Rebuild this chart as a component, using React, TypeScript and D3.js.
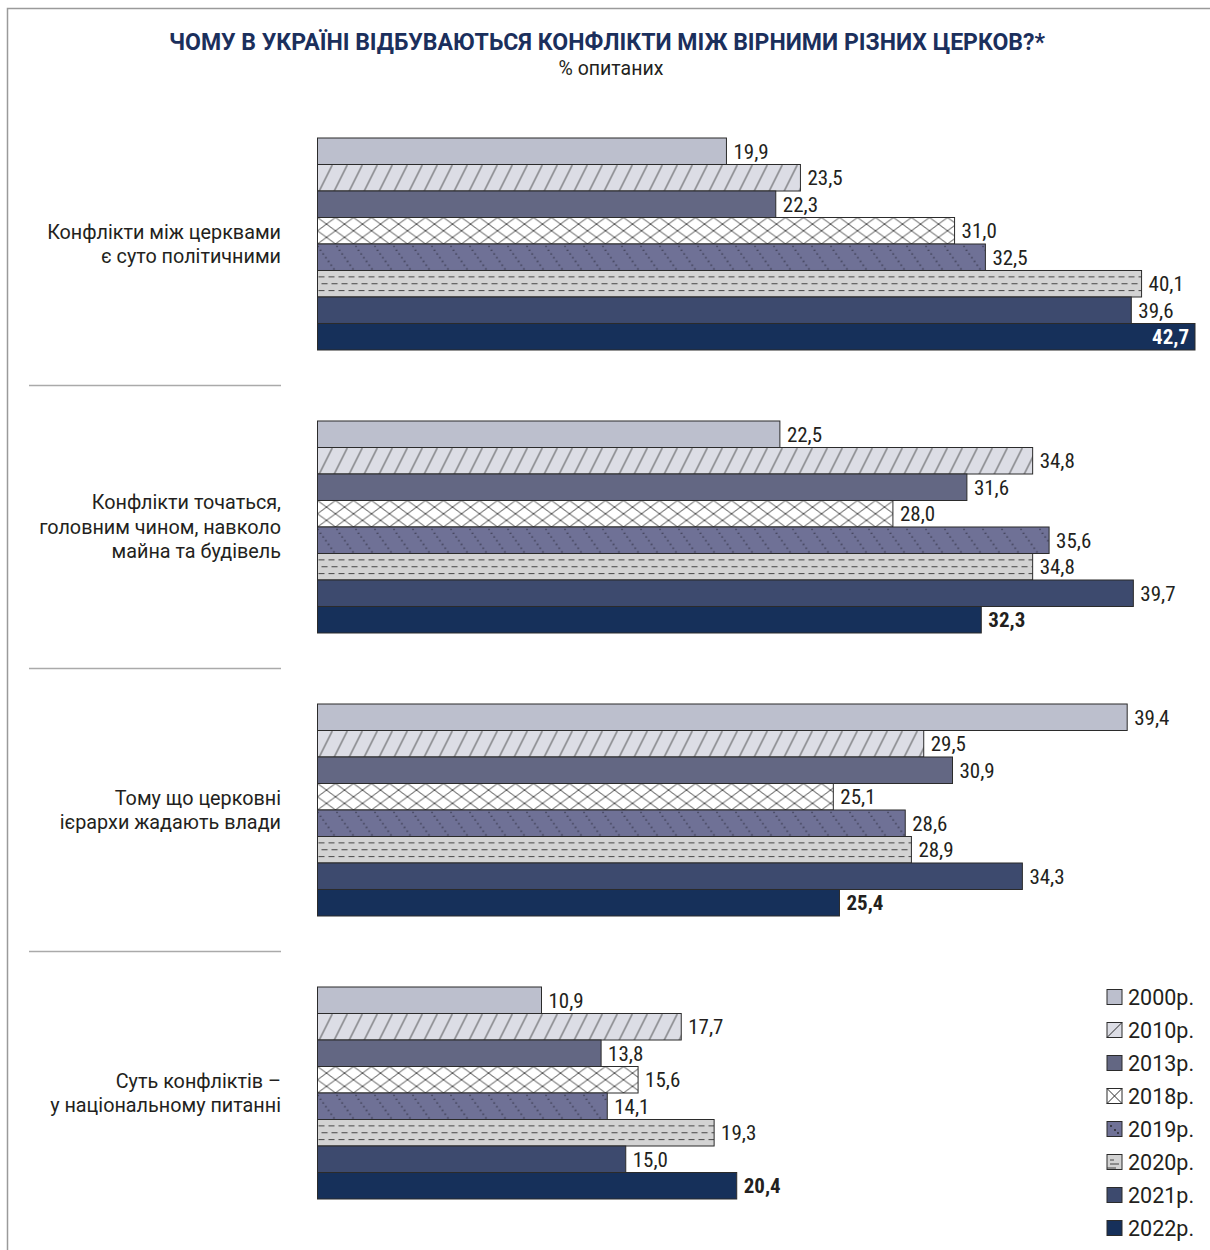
import React from "react";
import * as d3 from "d3";

const categories: string[][] = [
  ["Конфлікти між церквами", "є суто політичними"],
  ["Конфлікти точаться,", "головним чином, навколо", "майна та будівель"],
  ["Тому що церковні", "ієрархи жадають влади"],
  ["Суть конфліктів –", "у національному питанні"],
];
const years = ["2000р.", "2010р.", "2013р.", "2018р.", "2019р.", "2020р.", "2021р.", "2022р."];
const v2000 = [19.9, 22.5, 39.4, 10.9];
const v2010 = [23.5, 34.8, 29.5, 17.7];
const v2013 = [22.3, 31.6, 30.9, 13.8];
const v2018 = [31.0, 28.0, 25.1, 15.6];
const v2019 = [32.5, 35.6, 28.6, 14.1];
const v2020 = [40.1, 34.8, 28.9, 19.3];
const v2021 = [39.6, 39.7, 34.3, 15.0];
const v2022 = [42.7, 32.3, 25.4, 20.4];
const series = [v2000, v2010, v2013, v2018, v2019, v2020, v2021, v2022];

const fills = ["#bcbfcd", "#dcdde5", "#636783", "#ffffff", "#6f7196", "#d3d3d3", "#3d4a6e", "#16305a"];
const NAVY = "#1b2f5c";
const TEXT = "#231f20";
const FONT = "Roboto, 'Noto Sans', sans-serif";

function patternFor(idx: number, id: string, x: number, y: number, h: number) {
  if (idx === 1) {
    return (
      <pattern key={id} id={id} patternUnits="userSpaceOnUse" x={x} y={y} width={15} height={30}>
        <rect width={15} height={30} fill={fills[1]} />
        <line x1={0} y1={30} x2={15} y2={0} stroke="#333" strokeWidth={0.9} />
      </pattern>
    );
  }
  if (idx === 3) {
    return (
      <pattern key={id} id={id} patternUnits="userSpaceOnUse" x={x} y={y} width={18} height={h / 2}>
        <rect width={18} height={h / 2} fill="#fff" />
        <line x1={0} y1={0} x2={18} y2={h / 2} stroke="#333" strokeWidth={0.9} />
        <line x1={0} y1={h / 2} x2={18} y2={0} stroke="#333" strokeWidth={0.9} />
      </pattern>
    );
  }
  if (idx === 4) {
    return (
      <pattern key={id} id={id} patternUnits="userSpaceOnUse" x={x} y={y} width={19} height={h}>
        <rect width={19} height={h} fill={fills[4]} />
        <line x1={0} y1={2} x2={19} y2={h + 2} stroke="#2a2a3a" strokeWidth={1.4} strokeDasharray="1.2,3.4" />
        <line x1={-19} y1={2} x2={0} y2={h + 2} stroke="#2a2a3a" strokeWidth={1.4} strokeDasharray="1.2,3.4" />
      </pattern>
    );
  }
  if (idx === 5) {
    return (
      <pattern key={id} id={id} patternUnits="userSpaceOnUse" x={x} y={y} width={10} height={h}>
        <rect width={10} height={h} fill={fills[5]} />
        {[h * 0.24, h * 0.5, h * 0.76].map((yy, k) => (
          <line key={k} x1={k % 2 ? 4 : 1} y1={yy} x2={k % 2 ? 10 : 7} y2={yy} stroke="#444" strokeWidth={1} />
        ))}
        <line x1={0} y1={h * 0.5} x2={0.1} y2={h * 0.5} stroke="#444" strokeWidth={1} />
      </pattern>
    );
  }
  return null;
}

export default function App() {
  const W = 1210;
  const H = 1250;
  const x = d3.scaleLinear().domain([0, 42.7]).range([317.5, 1195]);
  const yGroup = d3
    .scaleBand<number>()
    .domain(d3.range(categories.length))
    .range([138, 1199])
    .paddingInner(0.2509)
    .paddingOuter(0);
  const yBar = d3.scaleBand<number>().domain(d3.range(years.length)).range([0, yGroup.bandwidth()]).padding(0);
  const bh = yBar.bandwidth();

  const defs: React.ReactNode[] = [];
  const bars: React.ReactNode[] = [];
  const labels: React.ReactNode[] = [];

  categories.forEach((_, g) => {
    const gy = yGroup(g)!;
    series.forEach((vals, s) => {
      const v = vals[g];
      const by = gy + yBar(s)!;
      const x0 = x(0);
      const x1 = x(v);
      let fill = fills[s];
      const pid = `p-${g}-${s}`;
      const p = patternFor(s, pid, x0, by, bh);
      if (p) {
        defs.push(p);
        fill = `url(#${pid})`;
      }
      bars.push(
        <rect key={`b-${g}-${s}`} x={x0} y={by} width={x1 - x0} height={bh} fill={fill} stroke="#2b2b2b" strokeWidth={1} />
      );
      const txt = d3.format(".1f")(v).replace(".", ",");
      const isLast = s === series.length - 1;
      const inside = isLast && x1 > 1150;
      labels.push(
        <text
          key={`t-${g}-${s}`}
          x={inside ? x1 - 6 : x1 + 7}
          y={by + bh / 2 + 7.5}
          textAnchor={inside ? "end" : "start"}
          fontFamily={FONT}
          fontSize={21}
          fontWeight={isLast ? 700 : 400}
          fill={inside ? "#fff" : TEXT}
          style={{ fontStretch: "condensed" }}
        >
          {txt}
        </text>
      );
    });
  });

  return (
    <svg width={W} height={H} style={{ display: "block", position: "absolute", left: 0, top: 0 }}>
      <defs>
        {defs}
        <pattern id="leg-2019" patternUnits="userSpaceOnUse" x={1107} y={1122} width={15} height={15}>
          <rect width={15} height={15} fill={fills[4]} />
          <circle cx={4} cy={4} r={0.9} fill="#222" />
          <circle cx={8} cy={8} r={0.9} fill="#222" />
          <circle cx={11} cy={11} r={0.9} fill="#222" />
        </pattern>
        <pattern id="leg-2020" patternUnits="userSpaceOnUse" x={1107} y={1155} width={15} height={15}>
          <rect width={15} height={15} fill={fills[5]} />
          <line x1={3} y1={5} x2={7} y2={5} stroke="#444" />
          <line x1={3} y1={9} x2={12} y2={9} stroke="#444" />
          <line x1={0} y1={13} x2={9} y2={13} stroke="#444" />
        </pattern>
      </defs>
      <rect x={0} y={0} width={W} height={H} fill="#fff" />
      <path d={`M7.5,${H} V8.5 H${W}`} fill="none" stroke="#9a9a9a" strokeWidth={1.5} />

      <text
        x={607}
        y={50}
        textAnchor="middle"
        fontFamily={FONT}
        fontWeight={700}
        fontSize={24}
        fill={NAVY}
        textLength={876}
        lengthAdjust="spacingAndGlyphs"
      >
        ЧОМУ В УКРАЇНІ ВІДБУВАЮТЬСЯ КОНФЛІКТИ МІЖ ВІРНИМИ РІЗНИХ ЦЕРКОВ?*
      </text>
      <text x={611} y={75} textAnchor="middle" fontFamily={FONT} fontSize={19.5} fill={TEXT}>
        % опитаних
      </text>

      {categories.map((lines, g) => {
        const cy = yGroup(g)! + yGroup.bandwidth() / 2;
        const lh = 24.5;
        const start = cy - ((lines.length - 1) * lh) / 2;
        return (
          <g key={`c-${g}`}>
            {lines.map((ln, k) => (
              <text
                key={k}
                x={281}
                y={start + k * lh + 7}
                textAnchor="end"
                fontFamily={FONT}
                fontSize={19.8}
                fill={TEXT}
              >
                {ln}
              </text>
            ))}
            {g > 0 && (
              <line
                x1={29}
                x2={281}
                y1={yGroup(g)! - (yGroup.step() - yGroup.bandwidth()) / 2}
                y2={yGroup(g)! - (yGroup.step() - yGroup.bandwidth()) / 2}
                stroke="#aaa"
                strokeWidth={1.5}
              />
            )}
          </g>
        );
      })}

      {bars}
      {labels}

      {years.map((yr, i) => {
        const cy = 997 + i * 33;
        const sx = 1107;
        const sy = cy - 7.5;
        let fill = fills[i];
        if (i === 4) fill = "url(#leg-2019)";
        if (i === 5) fill = "url(#leg-2020)";
        return (
          <g key={`l-${i}`}>
            <rect x={sx} y={sy} width={15} height={15} fill={fill} stroke="#2b2b2b" strokeWidth={1} />
            {(i === 1 || i === 3) && (
              <line x1={sx} y1={sy + 15} x2={sx + 15} y2={sy} stroke="#2b2b2b" strokeWidth={1} />
            )}
            {i === 3 && <line x1={sx} y1={sy} x2={sx + 15} y2={sy + 15} stroke="#2b2b2b" strokeWidth={1} />}
            <text x={1128} y={cy + 8} fontFamily={FONT} fontSize={21.5} fill={TEXT}>
              {yr}
            </text>
          </g>
        );
      })}
    </svg>
  );
}
